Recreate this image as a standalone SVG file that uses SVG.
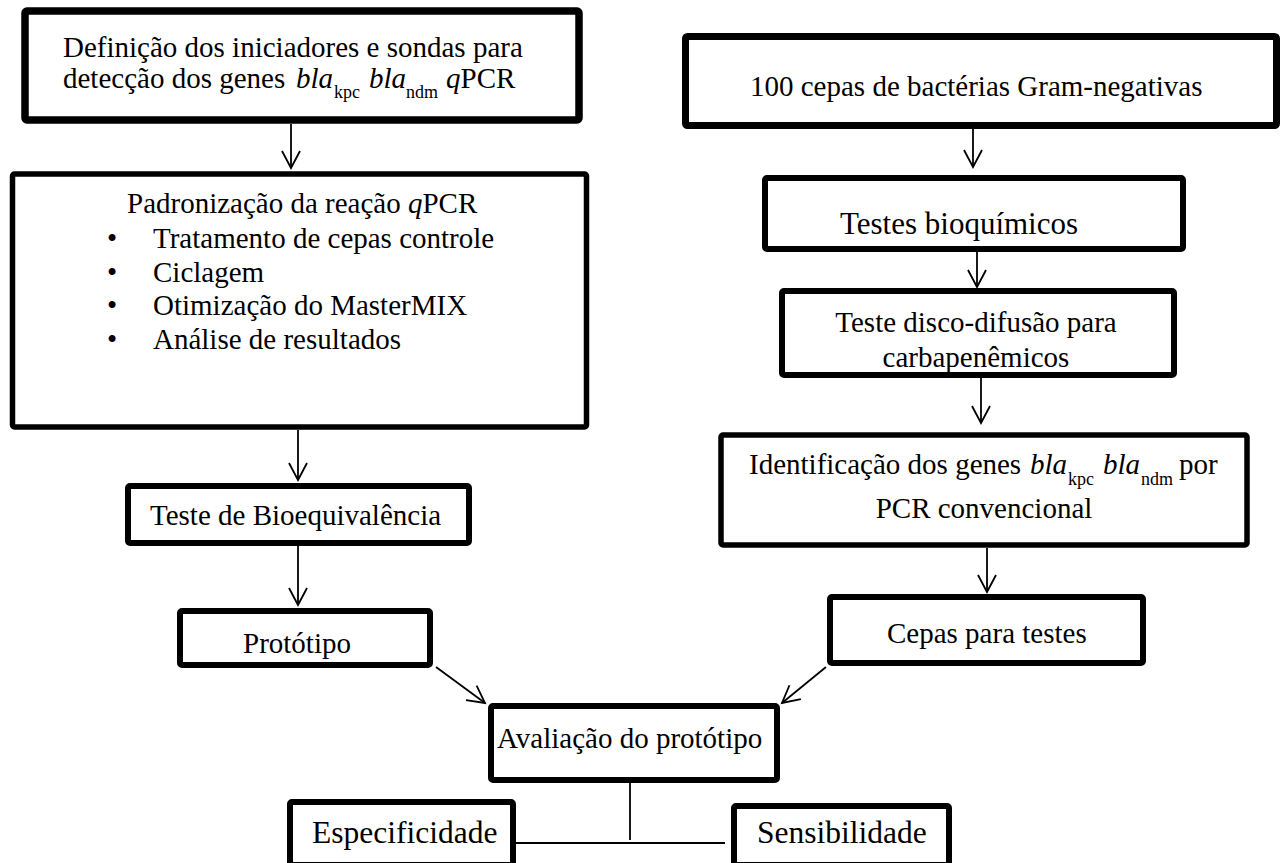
<svg xmlns="http://www.w3.org/2000/svg" width="1285" height="863" viewBox="0 0 1285 863">
<style>
  .box { fill: #fff; stroke: #000; stroke-linejoin: round; }
  .t { font-family: "Liberation Serif", "Times New Roman", serif; font-size: 29px; fill: #000; }
  .i { font-style: italic; }
  .sub { font-size: 18px; }
  .c { fill: none; stroke: #000; stroke-width: 1.8; }
</style>
<defs>
  <marker id="arr" markerUnits="userSpaceOnUse" markerWidth="40" markerHeight="40" refX="0" refY="0" orient="auto" overflow="visible">
    <path d="M-17,-9 L0,0 L-17,9" fill="none" stroke="#000" stroke-width="1.8"/>
  </marker>
</defs>
<rect width="1285" height="863" fill="#fff"/>

<g id="connectors">
  <line class="c" x1="291" y1="124" x2="291" y2="168" marker-end="url(#arr)"/>
  <line class="c" x1="298" y1="430" x2="298" y2="480" marker-end="url(#arr)"/>
  <line class="c" x1="298" y1="546" x2="298" y2="605" marker-end="url(#arr)"/>
  <line class="c" x1="973" y1="125" x2="973" y2="167" marker-end="url(#arr)"/>
  <line class="c" x1="977" y1="251" x2="977" y2="287" marker-end="url(#arr)"/>
  <line class="c" x1="981" y1="378" x2="981" y2="423" marker-end="url(#arr)"/>
  <line class="c" x1="987" y1="548" x2="987" y2="592" marker-end="url(#arr)"/>
  <line class="c" x1="436" y1="667" x2="485" y2="703" marker-end="url(#arr)"/>
  <line class="c" x1="826" y1="667" x2="782" y2="703" marker-end="url(#arr)"/>
  <line class="c" x1="630" y1="783" x2="630" y2="840"/>
  <line class="c" x1="516" y1="843" x2="725" y2="843"/>
</g>

<g id="n-definicao">
  <rect class="box" x="25" y="11" width="554" height="109" stroke-width="7.5" rx="2"/>
  <text class="t" x="63" y="57">Definição dos iniciadores e sondas para</text>
  <text class="t" y="88"><tspan x="63">detecção dos genes </tspan><tspan class="i" x="296">bla</tspan><tspan class="sub" x="334" dy="10">kpc</tspan><tspan class="i" x="369" dy="-10">bla</tspan><tspan class="sub" x="406" dy="10">ndm</tspan><tspan class="i" x="446" dy="-10">q</tspan><tspan>PCR</tspan></text>
</g>

<g id="n-padronizacao">
  <rect class="box" x="12.5" y="174" width="574" height="253" stroke-width="5.5" rx="2"/>
  <text class="t" x="127" y="213">Padronização da reação <tspan class="i">q</tspan>PCR</text>
  <text class="t" x="107" y="248">•</text><text class="t" x="153" y="248">Tratamento de cepas controle</text>
  <text class="t" x="107" y="282">•</text><text class="t" x="153" y="282">Ciclagem</text>
  <text class="t" x="107" y="315">•</text><text class="t" x="153" y="315">Otimização do MasterMIX</text>
  <text class="t" x="107" y="349">•</text><text class="t" x="153" y="349">Análise de resultados</text>
</g>

<g id="n-bioequivalencia">
  <rect class="box" x="128" y="486" width="341" height="57" stroke-width="6" rx="2"/>
  <text class="t" x="150" y="525">Teste de Bioequivalência</text>
</g>

<g id="n-prototipo">
  <rect class="box" x="180" y="611" width="250" height="54" stroke-width="6" rx="2"/>
  <text class="t" x="243" y="653">Protótipo</text>
</g>

<g id="n-cepas100">
  <rect class="box" x="685.5" y="36.5" width="591" height="89" stroke-width="7" rx="2"/>
  <text class="t" x="750" y="96">100 cepas de bactérias Gram-negativas</text>
</g>

<g id="n-bioquimicos">
  <rect class="box" x="765" y="178" width="418" height="71" stroke-width="6" rx="2"/>
  <text class="t" x="840" y="234" style="font-size:31px">Testes bioquímicos</text>
</g>

<g id="n-disco">
  <rect class="box" x="782" y="291" width="392" height="84" stroke-width="6" rx="2"/>
  <text class="t" x="976" y="332" text-anchor="middle">Teste disco-difusão para</text>
  <text class="t" x="976" y="367" text-anchor="middle">carbapenêmicos</text>
</g>

<g id="n-identificacao">
  <rect class="box" x="721" y="435" width="526" height="110" stroke-width="5.5" rx="2"/>
  <text class="t" y="474"><tspan x="749">Identificação dos genes </tspan><tspan class="i" x="1030">bla</tspan><tspan class="sub" x="1068" dy="11">kpc</tspan><tspan class="i" x="1103" dy="-11">bla</tspan><tspan class="sub" x="1141" dy="11">ndm</tspan><tspan x="1179" dy="-11">por</tspan></text>
  <text class="t" x="984" y="518" text-anchor="middle">PCR convencional</text>
</g>

<g id="n-cepastestes">
  <rect class="box" x="830" y="597" width="313" height="66" stroke-width="6" rx="2"/>
  <text class="t" x="887" y="643">Cepas para testes</text>
</g>

<g id="n-avaliacao">
  <rect class="box" x="491" y="706" width="286" height="74" stroke-width="6" rx="2"/>
  <text class="t" x="497" y="748">Avaliação do protótipo</text>
</g>

<g id="n-especificidade">
  <rect class="box" x="290" y="802" width="223" height="63" stroke-width="6" rx="2"/>
  <text class="t" x="312" y="843" style="font-size:31.5px">Especificidade</text>
</g>

<g id="n-sensibilidade">
  <rect class="box" x="734" y="806" width="215" height="59" stroke-width="6" rx="2"/>
  <text class="t" x="757" y="843" style="font-size:31.5px">Sensibilidade</text>
</g>
</svg>
